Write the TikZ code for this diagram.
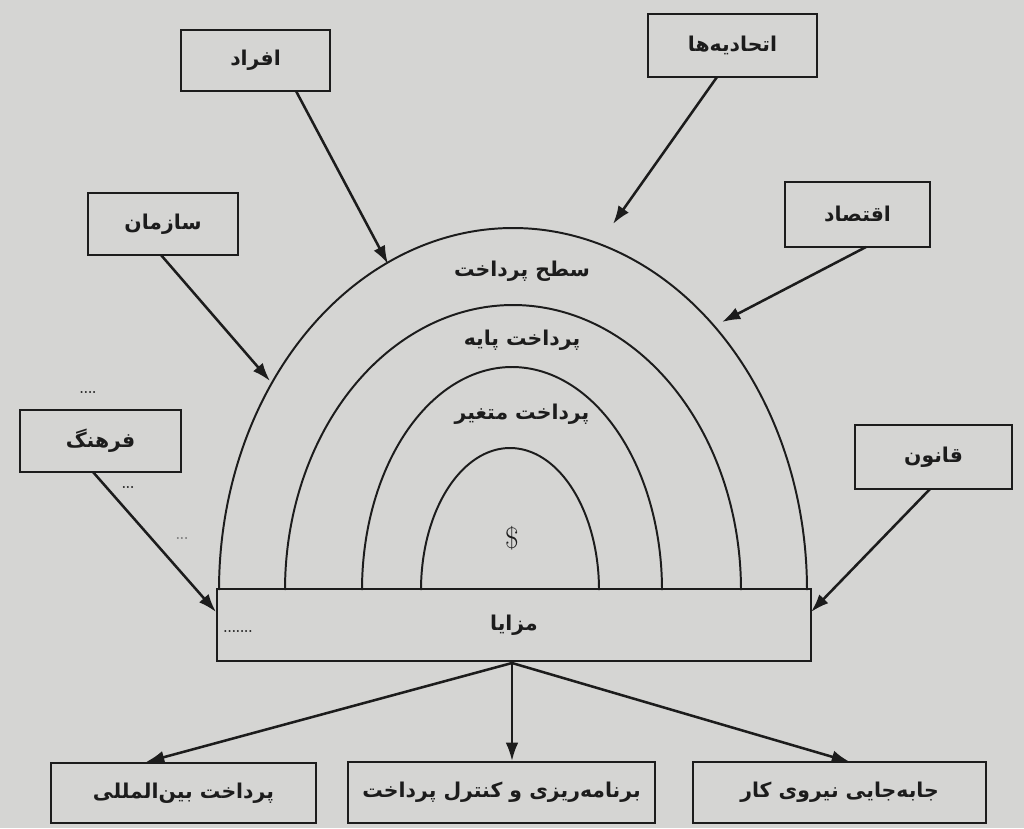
\documentclass[tikz,border=0pt]{standalone}
\usepackage{fontspec}
\newfontfamily\fa[Script=Arabic]{DejaVu Sans}
\TeXXeTstate=1
\usetikzlibrary{arrows.meta}
\definecolor{bgc}{RGB}{213,213,211}
\definecolor{inkc}{RGB}{28,28,28}
\begin{document}
\begin{tikzpicture}[x=0.025cm,y=-0.025cm,
  faf/.style={font=\fa\bfseries\fontsize{14.5}{18}\selectfont, text=inkc},
  box/.style 2 args={draw=inkc, line width=1.8pt, inner sep=0pt, faf,
    minimum width=#1*0.025cm, minimum height=#2*0.025cm},
  arr/.style={draw=inkc, line width=1.8pt, -{Latex[length=13pt,width=9pt]}},
  archline/.style={draw=inkc, line width=1.4pt},
  lbl/.style={faf, inner sep=0pt},
  dots/.style={text=inkc, font=\bfseries\fontsize{9}{9}\selectfont, inner sep=0pt}]
\fill[bgc] (0,0) rectangle (1024,828);
\useasboundingbox (0,0) rectangle (1024,828);

% arches
\draw[archline] plot[domain=0:180, samples=90, smooth] ({513+294*cos(\x)}, {590-362*sin(\x)});
\draw[archline] plot[domain=0:180, samples=90, smooth] ({513+228*cos(\x)}, {590-285*sin(\x)});
\draw[archline] plot[domain=0:180, samples=90, smooth] ({512+150*cos(\x)}, {590-223*sin(\x)});
\draw[archline] plot[domain=0:180, samples=90, smooth] ({510+89*cos(\x)}, {590-142*sin(\x)});

% arch labels
\node[lbl] (sath) at (522,271) {\beginR سطح پرداخت\endR};
\node[lbl] (payeh) at (522,340) {\beginR پرداخت پایه\endR};
\node[lbl] (motaghayer) at (522,414) {\beginR پرداخت متغیر\endR};
\node[text=inkc, font=\fontsize{21}{24}\selectfont, inner sep=0pt] (dollar) at (512,538) {\$};

% boxes
\node[box={149}{61}] (afrad) at (255.5,60.5) {\beginR افراد\endR};
\node[box={169}{63}] (ettehad) at (732.5,45.5) {\beginR اتحادیه^^^^200cها\endR};
\node[box={150}{62}] (sazman) at (163,224) {\beginR سازمان\endR};
\node[box={145}{65}] (eqtesad) at (857.5,214.5) {\beginR اقتصاد\endR};
\node[box={161}{62}] (farhang) at (100.5,441) {\beginR فرهنگ\endR};
\node[box={157}{64}] (ghanun) at (933.5,457) {\beginR قانون\endR};
\node[box={594}{72}] (mazaya) at (514,625) {\beginR مزایا\endR};
\node[box={265}{60}] (beynolmelal) at (183.5,793) {\beginR پرداخت بین^^^^200cالمللی\endR};
\node[box={307}{61}] (barnameh) at (501.5,792.5) {\beginR برنامه^^^^200cریزی و کنترل پرداخت\endR};
\node[box={293}{61}] (jabejaei) at (839.5,792.5) {\beginR جابه^^^^200cجایی نیروی کار\endR};

% arrow ends
\coordinate (tAfrad) at (388,264);
\coordinate (tEttehad) at (613,224);
\coordinate (tSazman) at (270,381);
\coordinate (tEqtesad) at (722,322);
\coordinate (tFarhang) at (216,612);
\coordinate (tGhanun) at (811,612);
\coordinate (sAfrad) at (296,91);
\coordinate (sEttehad) at (717,77);
\coordinate (sSazman) at (161,255);
\coordinate (sEqtesad) at (866,247);
\coordinate (sFarhang) at (93,472);
\coordinate (sGhanun) at (930,489);
\coordinate (mzOut) at (512,663);
\coordinate (tL) at (146,762);
\coordinate (tM) at (512,761);
\coordinate (tR) at (850,762);

\draw[arr] (sAfrad) -- (tAfrad);
\draw[arr] (sEttehad) -- (tEttehad);
\draw[arr] (sSazman) -- (tSazman);
\draw[arr] (sEqtesad) -- (tEqtesad);
\draw[arr] (sFarhang) -- (tFarhang);
\draw[arr] (sGhanun) -- (tGhanun);
\draw[arr] (mzOut) -- (tL);
\draw[arr] (mzOut) -- (tM);
\draw[arr] (mzOut) -- (tR);

% dots
\node[dots] (d1) at (88,393) {....};
\node[dots] (d2) at (128,488) {...};
\node[dots, text=inkc!60] (d3) at (182,538) {...};
\node[dots] (d4) at (238,631) {.......};
\end{tikzpicture}
\end{document}
